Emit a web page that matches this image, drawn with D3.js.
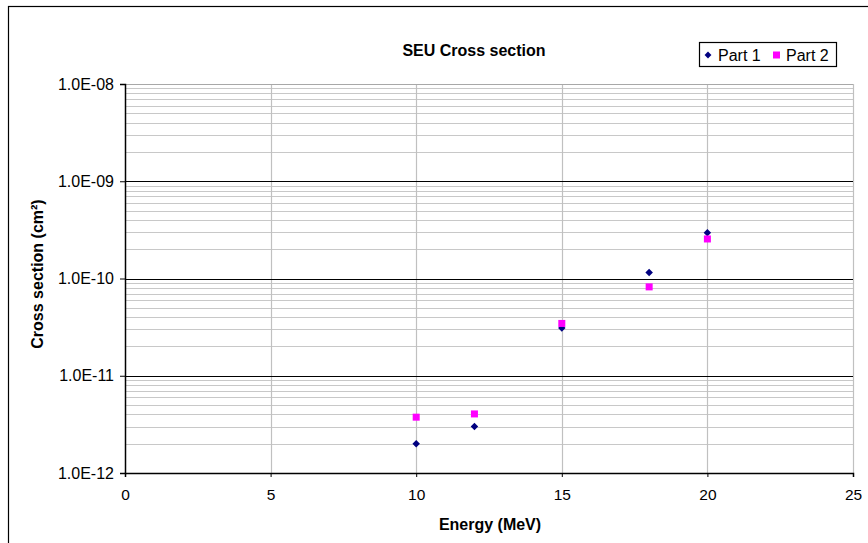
<!DOCTYPE html>
<html>
<head>
<meta charset="utf-8">
<script src="https://cdnjs.cloudflare.com/ajax/libs/d3/7.8.5/d3.min.js"></script>
<style>
  body { margin: 0; background: #fff; }
  svg { display: block; font-family: "Liberation Sans", Arial, sans-serif; }
</style>
</head>
<body>
<svg></svg>
<script>
var energy = [10, 12, 15, 18, 20];
var part1 = [2.0e-12, 3.0e-12, 3.1e-11, 1.15e-10, 2.95e-10];
var part2 = [3.75e-12, 4.05e-12, 3.45e-11, 8.2e-11, 2.55e-10];
var xTicks = [0, 5, 10, 15, 20, 25];
var yTicks = [1e-12, 1e-11, 1e-10, 1e-9, 1e-8];
var yTickLabels = ["1.0E-12", "1.0E-11", "1.0E-10", "1.0E-09", "1.0E-08"];

var margin = {top: 84, right: 15, bottom: 70, left: 125},
    width = 853 - margin.left,
    height = 473 - margin.top;

var svg = d3.select("svg")
    .attr("width", 868)
    .attr("height", 543);

// outer frame
svg.append("rect")
    .attr("x", 8.5).attr("y", 6.5)
    .attr("width", 870).attr("height", 560)
    .attr("fill", "none").attr("stroke", "#000").attr("stroke-width", 1.2);

var g = svg.append("g")
    .attr("transform", "translate(" + margin.left + "," + margin.top + ")");

var x = d3.scaleLinear().domain([0, 25]).range([0, width]);
var y = d3.scaleLog().domain([1e-12, 1e-8]).range([height, 0]);

// minor grid lines (2..9 per decade)
var minor = [];
yTicks.slice(0, -1).forEach(function(d) {
  for (var k = 2; k <= 9; k++) minor.push(d * k);
});
g.selectAll(".minor")
    .data(minor)
  .enter().append("line")
    .attr("x1", 0).attr("x2", width)
    .attr("y1", function(d) { return Math.round(y(d)) + 0.5; })
    .attr("y2", function(d) { return Math.round(y(d)) + 0.5; })
    .attr("stroke", "#c8c8c8").attr("stroke-width", 1.2);

// vertical grid
g.selectAll(".vgrid")
    .data(xTicks.slice(1))
  .enter().append("line")
    .attr("x1", function(d) { return Math.round(x(d)) + 0.5; })
    .attr("x2", function(d) { return Math.round(x(d)) + 0.5; })
    .attr("y1", 0).attr("y2", height)
    .attr("stroke", "#c0c0c0").attr("stroke-width", 1.2);

// top border gray
g.append("line")
    .attr("x1", 0).attr("x2", width).attr("y1", 0.5).attr("y2", 0.5)
    .attr("stroke", "#a8a8a8").attr("stroke-width", 1.2);

// major decade lines
g.selectAll(".major")
    .data(yTicks.slice(1, -1))
  .enter().append("line")
    .attr("x1", 0).attr("x2", width)
    .attr("y1", function(d) { return Math.round(y(d)) + 0.5; })
    .attr("y2", function(d) { return Math.round(y(d)) + 0.5; })
    .attr("stroke", "#000").attr("stroke-width", 1.2);

var xAxis = d3.axisBottom(x)
    .tickValues(xTicks)
    .tickSize(4)
    .tickPadding(12)
    .tickFormat(d3.format("d"));

var yAxis = d3.axisLeft(y)
    .tickValues(yTicks)
    .tickSize(5)
    .tickPadding(6)
    .tickFormat(function(d, i) { return yTickLabels[i]; });

g.append("g")
    .attr("class", "x axis")
    .attr("transform", "translate(0," + height + ")")
    .call(xAxis)
    .call(function(s) {
      s.select(".domain").attr("stroke-width", 1.5);
      s.selectAll("text").attr("font-size", 15.5).attr("fill", "#000");
    });

g.append("g")
    .attr("class", "y axis")
    .call(yAxis)
    .call(function(s) {
      s.select(".domain").attr("stroke-width", 1.5);
      s.selectAll("text").attr("font-size", 16).attr("fill", "#000");
    });

// Part 1 (diamonds)
g.selectAll(".p1")
    .data(energy)
  .enter().append("path")
    .attr("d", d3.symbol().type(d3.symbolDiamond2).size(36))
    .attr("transform", function(d, i) { return "translate(" + x(d) + "," + y(part1[i]) + ")"; })
    .attr("fill", "#000080");

// Part 2 (squares)
g.selectAll(".p2")
    .data(energy)
  .enter().append("rect")
    .attr("x", function(d) { return x(d) - 3.5; })
    .attr("y", function(d, i) { return y(part2[i]) - 3.5; })
    .attr("width", 7).attr("height", 7)
    .attr("fill", "#ff00ff");

// titles
svg.append("text")
    .attr("x", 474).attr("y", 56)
    .attr("text-anchor", "middle")
    .attr("font-size", 16).attr("font-weight", "bold")
    .text("SEU Cross section");

svg.append("text")
    .attr("x", 490).attr("y", 530)
    .attr("text-anchor", "middle")
    .attr("font-size", 16).attr("font-weight", "bold")
    .text("Energy (MeV)");

svg.append("text")
    .attr("transform", "translate(43,274) rotate(-90)")
    .attr("text-anchor", "middle")
    .attr("font-size", 16).attr("font-weight", "bold")
    .text("Cross section (cm²)");

// legend
var leg = svg.append("g");
leg.append("rect")
    .attr("x", 699.5).attr("y", 42.5)
    .attr("width", 137).attr("height", 24)
    .attr("fill", "#fff").attr("stroke", "#000").attr("stroke-width", 1.2);
leg.append("path")
    .attr("d", d3.symbol().type(d3.symbolDiamond2).size(30))
    .attr("transform", "translate(708,55)")
    .attr("fill", "#000080");
leg.append("text")
    .attr("x", 718).attr("y", 60.5)
    .attr("font-size", 16)
    .text("Part 1");
leg.append("rect")
    .attr("x", 773).attr("y", 51.5).attr("width", 7).attr("height", 7)
    .attr("fill", "#ff00ff");
leg.append("text")
    .attr("x", 786).attr("y", 60.5)
    .attr("font-size", 16)
    .text("Part 2");
</script>
</body>
</html>
